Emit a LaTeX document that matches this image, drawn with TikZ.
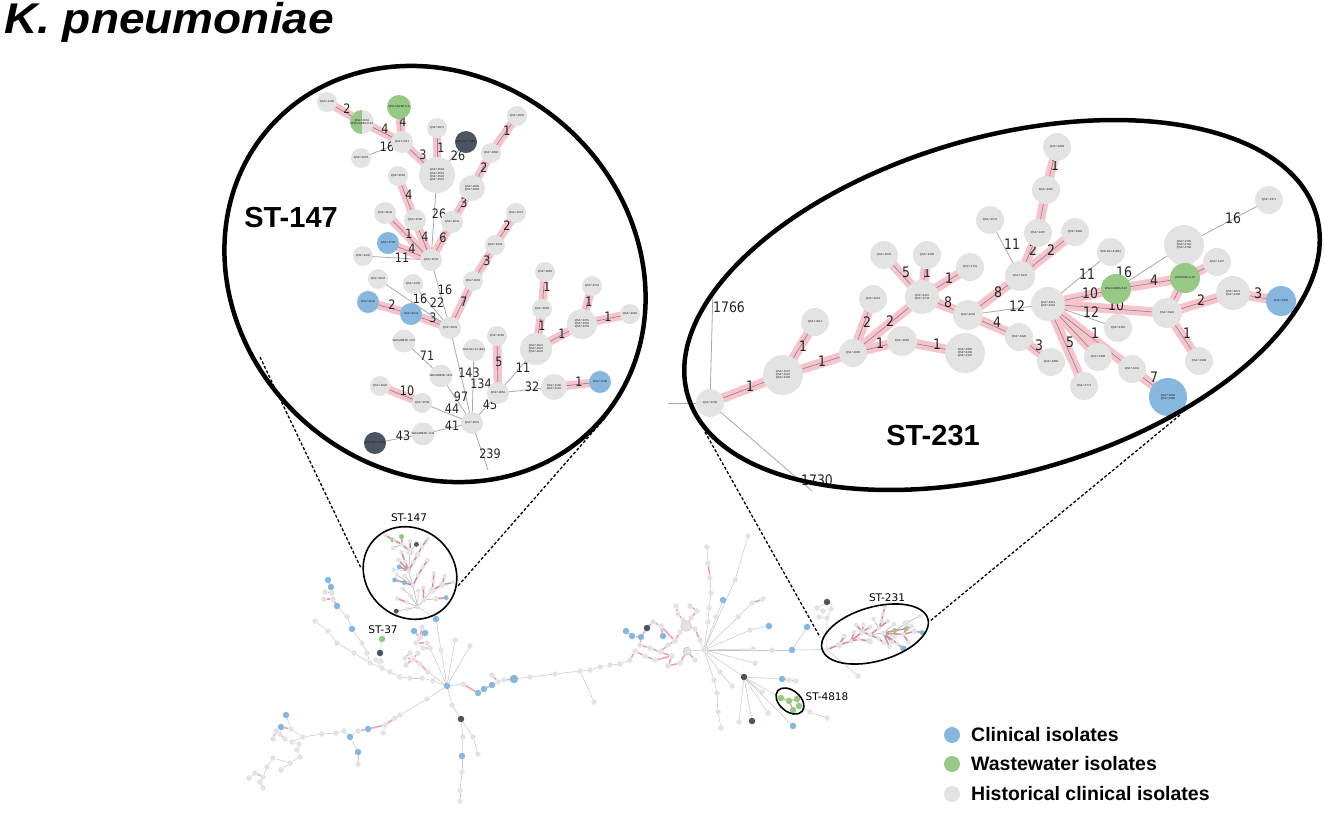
\documentclass[tikz,border=0pt]{standalone}
\usepackage{fontspec}
\setmainfont{Liberation Sans}
\newfontfamily\dvc{DejaVu Sans}[FakeStretch=0.86]
\newfontfamily\dvs{DejaVu Sans}
\newfontfamily\ttlf{Liberation Sans}[FakeStretch=1.07]
\usetikzlibrary{shapes.geometric}
\pgfdeclarelayer{bg}
\pgfdeclarelayer{lab}
\pgfdeclarelayer{fg}
\pgfsetlayers{bg,lab,main,fg}
\newif\ifbig
\newcommand\ntx[1]{\ifbig#1\fi}
\definecolor{ngray}{HTML}{E3E3E3}
\definecolor{nblue}{HTML}{88B7DE}
\definecolor{ngreen}{HTML}{97C885}
\definecolor{ndark}{HTML}{4B5561}
\definecolor{pband}{HTML}{F8C3CC}
\definecolor{opk}{HTML}{EFA0B2}
\definecolor{eline}{HTML}{A8A8A8}
\def\bw{8.5pt}\def\lw{0.7pt}\def\ew{0.8pt}\def\bc{pband}
\tikzset{
 nd/.style={circle, inner sep=0pt, fill=ngray, font=\fontsize{2.8}{3.2}\selectfont, align=center, text=black!90},
 ndb/.style={nd, fill=nblue},
 ndw/.style={nd, fill=ngreen},
 ndd/.style={nd, fill=ndark},
 ndh/.style={nd, path picture={\fill[ngreen] (path picture bounding box.north west) rectangle (path picture bounding box.south);}},
 band/.style={draw=\bc, line width=\bw},
 bline/.style={draw=black!45, line width=\lw},
 edge/.style={draw=eline, line width=\ew},
 lblA/.style={font=\dvc\fontsize{13}{13}\selectfont, inner sep=0pt, text=black!85},
 lblB/.style={font=\dvc\fontsize{14.5}{15}\selectfont, inner sep=0pt, text=black!85},
 ov/.style={circle, inner sep=0pt, minimum size=5.5, fill=ngray},
 ovb/.style={ov, fill=nblue, minimum size=6.5},
 ovbB/.style={ov, fill=nblue, minimum size=8.5},
 ovw/.style={ov, fill=ngreen, minimum size=6.5},
 ovd/.style={ov, fill=ndark, minimum size=6.5},
 ovbig/.style={ov, minimum size=11, draw=black!20, line width=0.4pt},
 ovmid/.style={ov, minimum size=8, draw=black!25, line width=0.4pt},
 oedge/.style={draw=black!22, line width=0.5pt},
 opink/.style={draw=opk, line width=1.5pt},
 bigell/.style={ellipse, draw, line width=4.5pt, inner sep=0pt},
 smell/.style={ellipse, draw, line width=1.6pt, inner sep=0pt},
 zoomline/.style={draw, line width=1.3pt, dash pattern=on 3pt off 2pt},
 sttitle/.style={font=\bfseries\fontsize{29}{30}\selectfont, inner sep=0pt},
 stsmall/.style={font=\dvs\fontsize{10.5}{11}\selectfont, inner sep=0pt},
 legtext/.style={anchor=west, font=\bfseries\fontsize{19.5}{20}\selectfont, inner sep=0pt},
 legdot/.style={circle, inner sep=0pt, minimum size=16},
}
% ---------------- ST-147 graph ----------------
\newcommand\STAgraph{%
\node[nd,minimum size=20] (\pf a1) at (327,102) {\ntx{QS17-4485}};
\node[ndh,minimum size=24] (\pf a2) at (362,122) {\ntx{QS17-3010\\WW-CARBA 8-16}};
\node[ndw,minimum size=24] (\pf a3) at (399,107) {\ntx{WW-CARBA 8-8}};
\node[nd,minimum size=22] (\pf a4) at (402,142) {\ntx{QS17-3711}};
\node[nd,minimum size=20] (\pf a5) at (437,128) {\ntx{QS17-3971}};
\node[ndd,minimum size=22] (\pf a6) at (466,142) {\ntx{WW-R11-7 (A/F)}};
\node[nd,minimum size=20] (\pf a7) at (361,158) {\ntx{QS17-4026}};
\node[nd,minimum size=36] (\pf a8) at (437,175) {\ntx{QS17-3518\\QS17-3519\\QS17-3520\\QS17-3521}};
\node[nd,minimum size=20] (\pf a9) at (517,116) {\ntx{QS17-3991}};
\node[nd,minimum size=20] (\pf a10) at (491,153) {\ntx{QS17-2880}};
\node[nd,minimum size=26] (\pf a11) at (472,188) {\ntx{QS17-2889\\QS17-2892}};
\node[nd,minimum size=20] (\pf a12) at (398,176) {\ntx{QS17-4663}};
\node[nd,minimum size=22] (\pf a13) at (385,213) {\ntx{QS17-2649}};
\node[nd,minimum size=22] (\pf a14) at (415,220) {\ntx{QS17-4286}};
\node[nd,minimum size=22] (\pf a15) at (452,222) {\ntx{QS17-2841}};
\node[ndb,minimum size=22] (\pf a16) at (388,243) {\ntx{QS17-4738}};
\node[nd,minimum size=22] (\pf a17) at (431,260) {\ntx{QS17-3544}};
\node[nd,minimum size=20] (\pf a18) at (363,256) {\ntx{QS17-2946}};
\node[nd,minimum size=20] (\pf a19) at (516,213) {\ntx{QS17-2531}};
\node[nd,minimum size=20] (\pf a20) at (495,245) {\ntx{QS17-3433}};
\node[nd,minimum size=20] (\pf a21) at (473,281) {\ntx{QS17-2983}};
\node[nd,minimum size=20] (\pf a22) at (378,279) {\ntx{QS17-2842}};
\node[nd,minimum size=20] (\pf a23) at (413,284) {\ntx{QS17-4308}};
\node[ndb,minimum size=22] (\pf a24) at (368,302) {\ntx{QS17-4540}};
\node[ndb,minimum size=22] (\pf a25) at (411,314) {\ntx{QS17-4541}};
\node[nd,minimum size=22] (\pf a26) at (450,328) {\ntx{QS17-2929}};
\node[nd,minimum size=20] (\pf a27) at (404,341) {\ntx{WW-MBESK 1707}};
\node[nd,minimum size=20] (\pf a28) at (474,350) {\ntx{WW-R11-12 (B/F)}};
\node[nd,minimum size=20] (\pf a29) at (497,336) {\ntx{QS17-4566}};
\node[nd,minimum size=22] (\pf a30) at (441,376) {\ntx{WW-MBESK 1612}};
\node[nd,minimum size=20] (\pf a31) at (380,386) {\ntx{QS17-2940}};
\node[nd,minimum size=20] (\pf a32) at (422,403) {\ntx{QS17-2539}};
\node[nd,minimum size=22] (\pf a33) at (498,393) {\ntx{QS17-2862}};
\node[nd,minimum size=22] (\pf a34) at (472,423) {\ntx{QS17-2616}};
\node[nd,minimum size=20] (\pf a35) at (423,434) {\ntx{WW-MBESK 1741}};
\node[ndd,minimum size=22] (\pf a36) at (375,443) {\ntx{WW-R10-3 (A/F)}};
\node[nd,minimum size=20] (\pf a37) at (545,272) {\ntx{QS17-2860}};
\node[nd,minimum size=20] (\pf a38) at (542,309) {\ntx{QS17-3656}};
\node[nd,minimum size=32] (\pf a39) at (536,349) {\ntx{QS17-2621\\QS17-2622\\QS17-2623}};
\node[nd,minimum size=20] (\pf a40) at (592,286) {\ntx{QS17-3716}};
\node[nd,minimum size=30] (\pf a41) at (582,324) {\ntx{QS17-3351\\QS17-3352\\QS17-3353}};
\node[nd,minimum size=20] (\pf a42) at (630,314) {\ntx{QS17-4662}};
\node[nd,minimum size=26] (\pf a43) at (554,387) {\ntx{QS17-3180\\QS17-3181}};
\node[ndb,minimum size=22] (\pf a44) at (600,382) {\ntx{QS17-3286}};
\begin{pgfonlayer}{bg}
\foreach \u/\v in {a1/a2,a2/a4,a3/a4,a4/a8,a5/a8,a9/a10,a10/a11,a11/a15,a15/a17,a12/a14,a14/a17,a13/a17,a16/a17,a20/a21,a19/a20,a21/a26,a24/a25,a25/a26,a31/a32,a29/a33,a43/a44,a39/a38,a38/a37,a39/a41,a41/a40,a41/a42}
  \draw[band] (\pf\u.center) -- (\pf\v.center);
\foreach \u/\v in {a1/a2,a2/a4,a3/a4,a4/a8,a5/a8,a9/a10,a10/a11,a11/a15,a15/a17,a12/a14,a14/a17,a13/a17,a16/a17,a20/a21,a19/a20,a21/a26,a24/a25,a25/a26,a31/a32,a29/a33,a43/a44,a39/a38,a38/a37,a39/a41,a41/a40,a41/a42}
  \draw[bline] (\pf\u.center) -- (\pf\v.center);
\foreach \u/\v in {a4/a7,a6/a8,a18/a17,a8/a17,a17/a26,a22/a26,a23/a26,a26/a34,a28/a34,a27/a30,a30/a34,a32/a34,a35/a34,a36/a35,a33/a34,a33/a39,a33/a43}
  \draw[edge] (\pf\u.center) -- (\pf\v.center);
\end{pgfonlayer}
\ifbig
\coordinate (c239) at (488,470);
\begin{pgfonlayer}{bg}\draw[edge] (\pf a34.center) -- (c239);\end{pgfonlayer}
\begin{pgfonlayer}{lab}
\foreach \x/\y/\t [count=\i] in {347/109/2,385/129/4,403/122/4,423/155/3,441/148/1,507/131/1,484/168/2,464/203/3,443/238/6,409/195/4,425/237/4,409/234/1,412/249/4,487/261/3,507/226/2,464/302/7,392/305/2,433/318/3,407/391/10,499/362/5,579/382/1,542/326/1,547/287/1,562/334/1,589/302/1,608/317/1,387/147/16,458/156/26,402/258/11,439/214/26,445/290/16,420/299/16,437/303/22,469/373/143,481/384/134,427/356/71,461/397/97,452/409/44,452/426/41,403/436/43,490/405/45,523/368/11,532/387/32,490/454/239}
  \node[lblA] (la\i) at (\x,\y) {\t};
\end{pgfonlayer}
\fi
}
% ---------------- ST-231 graph ----------------
\newcommand\STBgraph{%
\node[nd,minimum size=28] (\pf b1) at (710,403) {\ntx{QS17-3338}};
\node[nd,minimum size=40] (\pf b2) at (783,375) {\ntx{QS17-3107\\QS17-3321\\QS17-3335}};
\node[nd,minimum size=28] (\pf b3) at (815,322) {\ntx{QS17-3011}};
\node[nd,minimum size=28] (\pf b4) at (853,353) {\ntx{QS17-2985}};
\node[nd,minimum size=28] (\pf b5) at (873,299) {\ntx{QS17-2524}};
\node[nd,minimum size=28] (\pf b6) at (884,255) {\ntx{QS17-2645}};
\node[nd,minimum size=28] (\pf b7) at (927,255) {\ntx{QS17-2666}};
\node[nd,minimum size=28] (\pf b8) at (970,267) {\ntx{QS17-2731}};
\node[nd,minimum size=34] (\pf b9) at (922,297) {\ntx{QS17-2497\\QS17-3744}};
\node[nd,minimum size=30] (\pf b10) at (968,315) {\ntx{QS17-4000}};
\node[nd,minimum size=30] (\pf b11) at (902,341) {\ntx{QS17-2868}};
\node[nd,minimum size=40] (\pf b12) at (965,353) {\ntx{QS17-2985\\QS17-3299\\QS17-3330}};
\node[nd,minimum size=28] (\pf b13) at (990,220) {\ntx{QS17-3079}};
\node[nd,minimum size=28] (\pf b14) at (1057,147) {\ntx{QS17-2699}};
\node[nd,minimum size=28] (\pf b15) at (1046,190) {\ntx{QS17-3687}};
\node[nd,minimum size=28] (\pf b16) at (1038,233) {\ntx{QS17-4867}};
\node[nd,minimum size=28] (\pf b17) at (1075,232) {\ntx{QS17-2999}};
\node[nd,minimum size=30] (\pf b18) at (1020,276) {\ntx{QS17-3972}};
\node[nd,minimum size=34] (\pf b19) at (1048,304) {\ntx{QS17-3321\\QS17-3322}};
\node[nd,minimum size=28] (\pf b20) at (1111,252) {\ntx{WW-R11-8 (B/F)}};
\node[ndw,minimum size=30] (\pf b21) at (1116,289) {\ntx{WW-CARBA 8-32}};
\node[nd,minimum size=40] (\pf b22) at (1184,245) {\ntx{QS17-2795\\QS17-2794\\QS17-3798}};
\node[nd,minimum size=28] (\pf b23) at (1269,200) {\ntx{QS17-2371}};
\node[ndw,minimum size=30] (\pf b24) at (1185,278) {\ntx{WW-ESBL 8-08}};
\node[nd,minimum size=28] (\pf b25) at (1217,262) {\ntx{QS17-4107}};
\node[nd,minimum size=34] (\pf b26) at (1233,293) {\ntx{QS17-4671\\QS17-4236}};
\node[ndb,minimum size=30] (\pf b27) at (1281,301) {\ntx{QS17-4626}};
\node[nd,minimum size=30] (\pf b28) at (1167,313) {\ntx{QS17-3912}};
\node[nd,minimum size=28] (\pf b29) at (1118,328) {\ntx{QS17-4262}};
\node[nd,minimum size=28] (\pf b30) at (1019,337) {\ntx{QS17-2928}};
\node[nd,minimum size=28] (\pf b31) at (1051,362) {\ntx{QS17-3868}};
\node[nd,minimum size=28] (\pf b32) at (1098,357) {\ntx{QS17-3398}};
\node[nd,minimum size=28] (\pf b33) at (1132,369) {\ntx{QS17-3401}};
\node[nd,minimum size=28] (\pf b34) at (1084,386) {\ntx{QS17-2771}};
\node[nd,minimum size=28] (\pf b35) at (1199,361) {\ntx{QS17-3998}};
\node[ndb,minimum size=38] (\pf b36) at (1168,397) {\ntx{QS17-3638\\QS17-3688}};
\begin{pgfonlayer}{bg}
\foreach \u/\v in {b1/b2,b2/b3,b2/b4,b4/b5,b4/b9,b4/b11,b11/b12,b9/b6,b9/b7,b9/b8,b9/b10,b10/b18,b18/b16,b16/b15,b15/b14,b18/b17,b10/b30,b30/b31,b19/b21,b21/b24,b19/b28,b19/b34,b19/b32,b19/b33,b33/b36,b28/b24,b24/b25,b28/b26,b26/b27,b28/b35}
  \draw[band] (\pf\u.center) -- (\pf\v.center);
\foreach \u/\v in {b1/b2,b2/b3,b2/b4,b4/b5,b4/b9,b4/b11,b11/b12,b9/b6,b9/b7,b9/b8,b9/b10,b10/b18,b18/b16,b16/b15,b15/b14,b18/b17,b10/b30,b30/b31,b19/b21,b21/b24,b19/b28,b19/b34,b19/b32,b19/b33,b33/b36,b28/b24,b24/b25,b28/b26,b26/b27,b28/b35}
  \draw[bline] (\pf\u.center) -- (\pf\v.center);
\foreach \u/\v in {b18/b13,b10/b19,b19/b20,b21/b22,b22/b23,b19/b29}
  \draw[edge] (\pf\u.center) -- (\pf\v.center);
\end{pgfonlayer}
\ifbig
\coordinate (c1766) at (713,288);
\coordinate (cleft) at (668,403);
\coordinate (c1730) at (812,491);
\begin{pgfonlayer}{bg}
\draw[edge] (\pf b1.center) -- (c1766);
\draw[edge] (\pf b1.center) -- (cleft);
\draw[edge] (\pf b1.center) -- (c1730);
\end{pgfonlayer}
\begin{pgfonlayer}{lab}
\foreach \x/\y/\t [count=\i] in {750/386/1,803/346/1,822/361/1,867/322/2,890/321/2,880/343/1,937/344/1,906/272/5,927/272/1,949/278/1,948/302/8,998/292/8,1033/250/2,1055/165/1,1051/250/2,997/322/4,1039/345/3,1090/293/10,1154/280/4,1116/305/10,1070/342/5,1095/333/1,1154/377/7,1201/300/2,1258/293/3,1187/333/1,1012/244/11,1017/306/12,1087/274/11,1124/272/16,1233/218/16,1091/312/12,729/307/1766,817/480/1730}
  \node[lblB] (lb\i) at (\x,\y) {\t};
\end{pgfonlayer}
\fi
}
\begin{document}
\begin{tikzpicture}[x=1pt,y=-1pt]
\useasboundingbox (0,0) rectangle (1325,815);
\begin{pgfonlayer}{bg}
\fill[white] (0,0) rectangle (1325,815);
\end{pgfonlayer}
% title
\node[anchor=base west, inner sep=0pt, font=\ttlf\bfseries\itshape\fontsize{43}{43}\selectfont] (title) at (4,33) {K. pneumoniae};
% big zoomed graphs
\bigtrue
\def\pf{A}\def\bw{8.5pt}\def\lw{0.7pt}\def\ew{0.8pt}\def\bc{pband}
\STAgraph
\def\pf{B}\def\bw{9.5pt}
\STBgraph
% small copies inside overview
\bigfalse
\begin{scope}[shift={(410,573)}, scale=0.222, shift={(-437,-271)}, transform shape]
\def\pf{a}\def\bw{1.8pt}\def\lw{0.3pt}\def\ew{0.5pt}\def\bc{opk}
\STAgraph
\end{scope}
\begin{scope}[shift={(875,634)}, scale=0.167, shift={(-998,-310)}, transform shape]
\def\pf{b}\def\bw{1.8pt}\def\lw{0.3pt}\def\ew{0.5pt}\def\bc{opk}
\STBgraph
\end{scope}
% overview nodes
\foreach \n/\x/\y/\s in {d1/328/580/ovb,d2/331/587/ovb,d3/325/592/ov,d4/332/593/ov,d5/324/599/ov,d6/333/599/ov,d7/337/606/ovb,d8/347/617/ov,d9/352/629/ovb,d10/362/643/ov,d11/367/653/ov,d12/370/663/ov,d13/376/660/ov,d14/382/668/ov,d15/390/672/ov,d16/400/677/ov,d17/410/678/ov,d18/422/678/ov,d19/433/681/ov,d20/315/621/ov,d21/328/631/ov,d22/337/643/ov,d23/354/653/ov,
 e1/382/639/ovw,e3/380/653/ovd,e4/381/661/ov,
 h1/447/686/ovb,f1/436/619/ovb,f2/441/650/ov,m1/470/646/ov,m2/455/640/ov,
 g1/414/631/ovb,g2/422/627/ov,g3/425/633/ovb,g4/420/638/ov,g5/427/643/ov,g6/430/648/ov,g7/423/648/ov,g8/416/643/ov,
 k1/410/653/ov,k2/418/653/ov,k3/405/658/ov,k4/413/659/ov,k5/420/664/ov,k6/428/672/ov,k7/406/665/ov,
 r1/463/684/ov,r2/478/693/ovb,r3/484/689/ovb,r4/492/685/ovb,r5/492/675/ov,r6/498/682/ov,r7/504/680/ov,r8/514/679/ovbB,r9/530/677/ov,r10/555/674/ov,r11/580/671/ov,r12/590/670/ov,r13/600/667/ov,r14/610/665/ov,r15/594/702/ov,
 n1/452/705/ov,n2/461/719/ovd,n3/463/737/ov,n4/473/737/ov,n5/462/756/ovb,n6/478/754/ov,n7/462/772/ov,n8/460/790/ov,n9/460/801/ov,
 q1/427/699/ov,q2/400/715/ov,q3/395/718/ov,q4/385/725/ov,q5/383/733/ov,q6/368/729/ovb,q7/358/731/ov,q8/350/737/ovb,q9/344/731/ov,q10/336/733/ov,q11/322/734/ov,q12/303/737/ov,q13/299/744/ov,q14/297/750/ov,q15/300/757/ov,q16/290/763/ov,q17/281/770/ov,q19/358/752/ovb,q20/358/764/ov,q21/286/715/ovb,q22/281/727/ovb,q23/280/734/ov,q24/285/739/ov,q25/273/739/ov,q26/276/731/ov,q27/292/742/ov,q28/255/773/ov,q29/263/777/ov,q30/260/782/ov,q31/263/788/ov,q32/273/758/ov,q33/267/767/ov,q34/249/778/ov,q35/291/729/ov,
 c1/626/631/ovb,c2/632/636/ovb,c3/641/637/ovb,c4/647/628/ovd,c5/663/636/ovb,c6/640/645/ov,c7/650/648/ov,c8/645/656/ov,c9/655/660/ov,c10/660/652/ov,c11/668/645/ov,c12/672/656/ov,c13/675/641/ov,c14/680/632/ov,c15/683/620/ov,c16/678/614/ov,c17/691/618/ov,c18/695/629/ov,c19/686/626/ovbig,c20/687/651/ovmid,c21/695/660/ov,c22/680/663/ov,c23/668/666/ov,c24/700/640/ov,c25/697/611/ov,c26/690/606/ov,c27/676/606/ov,c28/653/622/ov,c29/661/626/ov,c30/635/651/ov,c31/630/660/ov,c32/620/664/ov,
 h2/704/650/ov,
 s1/708/622/ov,s2/709/608/ov,s3/711/593/ov,s4/710/578/ov,s5/708/563/ov,s6/707/547/ov,s7/735/580/ov,s8/748/536/ov,s9/716/617/ov,s10/723/600/ovb,s11/738/617/ov,s12/752/603/ov,s13/763/599/ov,s14/750/630/ov,s15/769/626/ovb,s16/753/649/ov,s17/772/650/ov,s18/792/650/ovb,s19/807/627/ovb,s21/755/663/ov,s22/720/672/ov,s23/732/686/ov,s24/714/680/ov,s25/717/693/ov,s26/718/712/ov,s27/721/728/ov,s28/744/677/ovd,s29/739/722/ov,s30/752/721/ovd,s31/768/713/ov,s32/782/679/ovb,s33/789/680/ov,s34/796/681/ov,s35/793/726/ovb,s36/827/718/ov,s37/810/712/ov,s39/858/676/ov,s40/762/692/ov,
 t1/781/698/ovw,t2/789/701/ovw,t3/797/699/ovw,t4/799/706/ovw,t5/793/710/ovw,
 u1/827/602/ovd,u2/817/608/ov,u3/823/611/ov,u4/831/609/ov,u5/827/618/ov,u6/819/617/ov}
  \node[\s] (\n) at (\x,\y) {};
\begin{pgfonlayer}{bg}
\foreach \u/\v in {d7/d8,d8/d9,d9/d10,d10/d11,d11/d12,d12/d14,d13/d14,d14/d15,d15/d16,d16/d17,d17/d18,d18/d19,d19/h1,d20/d21,d21/d22,d22/d23,d23/d12,e1/e3,e3/e4,e4/d13,f1/f2,f2/h1,m1/h1,m2/h1,g6/h1,k6/h1,h1/r1,r8/r9,r9/r10,r10/r11,r11/r12,r12/r13,r13/r14,r14/c32,r11/r15,h1/n1,n1/n2,n2/n3,n3/n5,n2/n4,n4/n6,n5/n7,n7/n8,n8/n9,h1/q1,q1/q2,q4/q5,q7/q8,q8/q9,q9/q10,q10/q11,q11/q12,q8/q19,q19/q20,q12/q35,q35/q21,q12/q27,q27/q13,q13/q14,q14/q15,q15/q16,q16/q17,q16/q32,q32/q33,q33/q29,q28/q34,c32/c31,h2/s1,s1/s2,s2/s3,s3/s4,s5/s6,h2/s7,s7/s8,h2/s9,s9/s10,h2/s11,s11/s12,h2/s14,s14/s15,h2/s16,h2/s17,s17/s18,s18/s19,h2/s21,h2/s22,s22/s23,h2/s24,s24/s25,s25/s26,s26/s27,h2/s28,s28/s29,s28/s30,s28/s31,s28/s40,s28/s32,s28/s35,s28/t1,t4/s37,s37/s36,u1/u2,u2/u3,u3/u4,u4/u5,u5/u6,aa34/f1,bb1/s18,bb1/u5,bb1/s39,c24/h2,c20/h2}
  \draw[oedge] (\u) -- (\v);
\foreach \u/\v in {d1/d2,d2/d4,d3/d4,d4/d6,d5/d6,d6/d7,g1/g4,g2/g4,g3/g4,g4/g8,g8/g5,g5/g6,g7/g6,k1/k3,k2/k4,k3/k4,k4/k5,k7/k4,k5/k6,r1/r2,r2/r3,r3/r4,r4/r6,r5/r6,r6/r7,r7/r8,q2/q3,q3/q4,q4/q6,q6/q7,q22/q26,q26/q23,q23/q24,q25/q26,q35/q22,q29/q28,q29/q30,q30/q31,c1/c2,c2/c3,c3/c6,c6/c7,c7/c10,c10/c11,c11/c13,c13/c14,c14/c19,c19/c15,c15/c16,c16/c27,c19/c17,c17/c25,c25/c26,c19/c18,c18/c24,c20/c21,c20/c22,c22/c23,c23/c12,c12/c10,c8/c9,c9/c12,c8/c30,c30/c31,c4/c28,c28/c29,c29/c13,c5/c29,c3/c4,s12/s13,s32/s33,s33/s34,t1/t2,t2/t3,t2/t5,t3/t4,s4/s5}
  \draw[opink] (\u) -- (\v);
\end{pgfonlayer}
% titles
\node[sttitle] (tA) at (291,218) {ST-147};
\node[sttitle] (tB) at (933,436) {ST-231};
\node[stsmall] (sA) at (409,518) {ST-147};
\node[stsmall] (sC) at (383,630) {ST-37};
\node[stsmall] (sB) at (887,598) {ST-231};
\node[stsmall] (sD) at (827,697) {ST-4818};
% ellipses and zoom lines
\begin{pgfonlayer}{fg}
\node[bigell, minimum width=442, minimum height=394, rotate=-42] (ellA) at (435,274) {};
\node[bigell, minimum width=654, minimum height=336, rotate=16] (ellB) at (1002,305) {};
\node[smell, minimum width=98, minimum height=88, rotate=-42] (smA) at (410,573) {};
\node[smell, minimum width=110, minimum height=54, rotate=16] (smB) at (875,634) {};
\node[smell, minimum width=32, minimum height=21, rotate=-40] (smD) at (790,701) {};
\coordinate (zA1) at (260,357);
\coordinate (zA2) at (361,568);
\coordinate (zA3) at (605,418);
\coordinate (zA4) at (457,587);
\coordinate (zB1) at (705,432);
\coordinate (zB2) at (820,637);
\coordinate (zB3) at (1180,415);
\coordinate (zB4) at (930,621);
\draw[zoomline] (zA1) -- (zA2);
\draw[zoomline] (zA3) -- (zA4);
\draw[zoomline] (zB1) -- (zB2);
\draw[zoomline] (zB3) -- (zB4);
\end{pgfonlayer}
% legend
\node[legdot, fill=nblue] (lg1) at (952,735) {};
\node[legdot, fill=ngreen] (lg2) at (952,764) {};
\node[legdot, fill=ngray] (lg3) at (952,794) {};
\node[legtext] (lt1) at (971,735) {Clinical isolates};
\node[legtext] (lt2) at (971,764) {Wastewater isolates};
\node[legtext] (lt3) at (971,794) {Historical clinical isolates};
\end{tikzpicture}
\end{document}
